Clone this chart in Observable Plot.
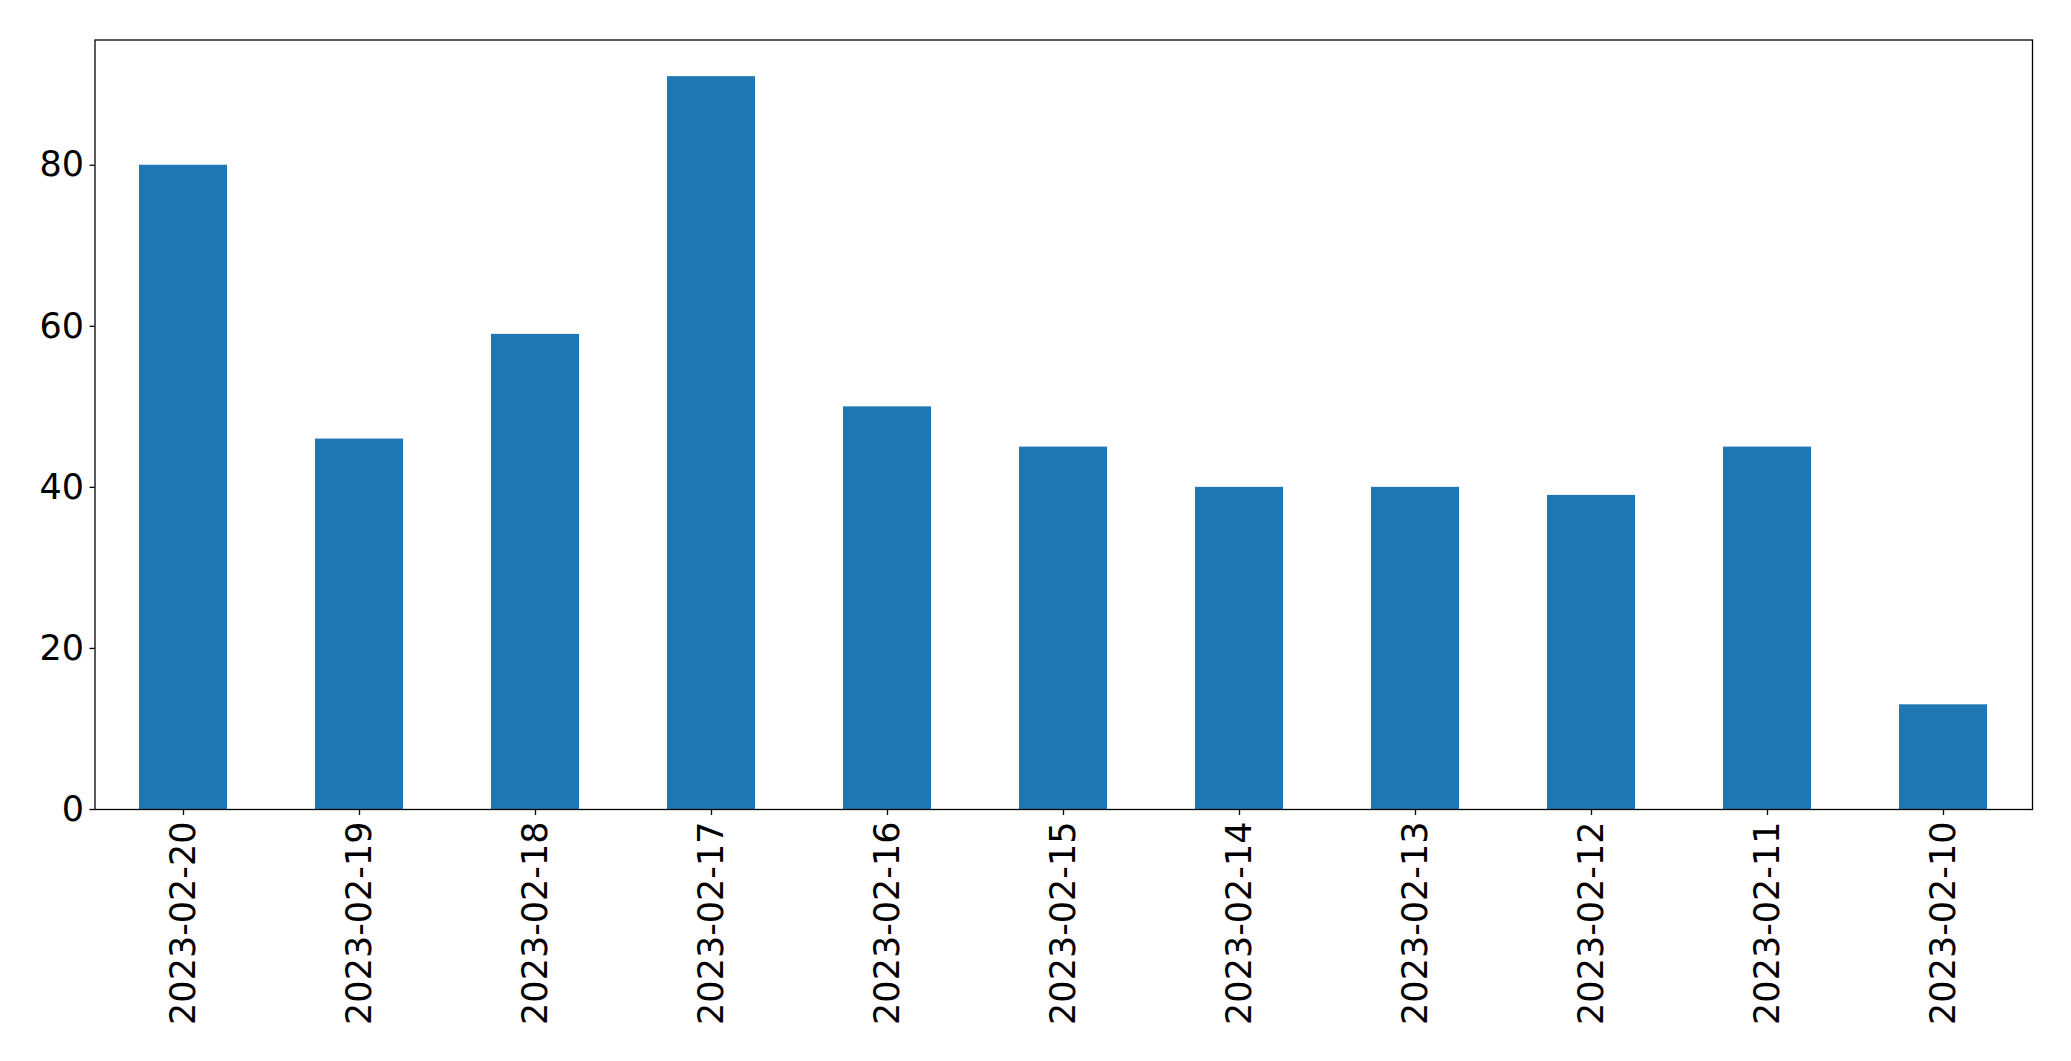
<!DOCTYPE html>
<html>
<head>
<meta charset="utf-8">
<script src="https://cdn.jsdelivr.net/npm/d3@7"></script>
<script src="https://cdn.jsdelivr.net/npm/@observablehq/plot@0.6"></script>
<style>
  html, body { margin: 0; padding: 0; background: #fff; }
  #chart svg { display: block; }
</style>
</head>
<body>
<div id="chart"></div>
<script>
const dates = ["2023-02-20","2023-02-19","2023-02-18","2023-02-17","2023-02-16","2023-02-15","2023-02-14","2023-02-13","2023-02-12","2023-02-11","2023-02-10"];
const counts = [80, 46, 59, 91, 50, 45, 40, 40, 39, 45, 13];
const yTicks = [0, 20, 40, 60, 80];

const data = dates.map((d, i) => ({date: d, count: counts[i]}));

const chart = Plot.plot({
  width: 2071,
  height: 1061,
  marginLeft: 94.5,
  marginRight: 39,
  marginTop: 39.5,
  marginBottom: 252,
  style: {fontFamily: "DejaVu Sans", fontSize: "35px", color: "#000", background: "#fff"},
  x: {type: "band", domain: dates, paddingInner: 0.5, paddingOuter: 0.25},
  y: {domain: [0, 95.55]},
  marks: [
    Plot.barY(data, {x: "date", y: "count", fill: "#1f77b4"}),
    Plot.frame({stroke: "#000", strokeWidth: 1.3}),
    Plot.axisY({ticks: yTicks, tickSize: 5, tickPadding: 6, label: null, fontSize: 35, stroke: "#000", strokeWidth: 1.3}),
    Plot.axisX({tickRotate: -90, tickSize: 6, tickPadding: 6, label: null, fontSize: 35, stroke: "#000", strokeWidth: 1.3})
  ]
});
document.getElementById("chart").appendChild(chart);
</script>
</body>
</html>
